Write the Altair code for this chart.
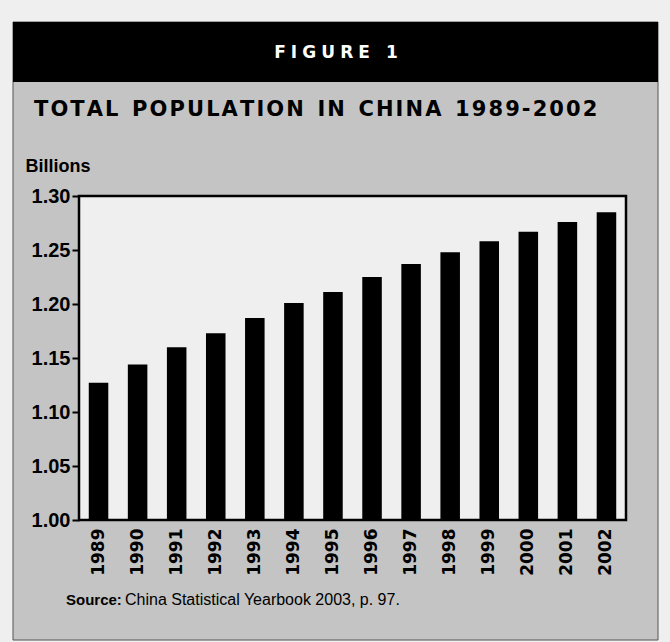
import altair as alt
import pandas as pd

# Total population of China, billions, 1989-2002
years = [str(y) for y in range(1989, 2003)]
population = [1.127, 1.144, 1.160, 1.173, 1.187, 1.201, 1.211,
              1.225, 1.237, 1.248, 1.258, 1.267, 1.276, 1.285]
y_ticks = [1.00, 1.05, 1.10, 1.15, 1.20, 1.25, 1.30]

header_text = "FIGURE 1"
title_text = "TOTAL POPULATION IN CHINA 1989-2002"
axis_title = "Billions"
source_label = "Source:"
source_text = "China Statistical Yearbook 2003, p. 97."

# ---- layout (pixels) ----
W, H = 547, 324            # plot area
PAD_L, PAD_T = 79, 196     # plot origin on the page
PAGE_W, PAGE_H = 670, 642
PAGE_BG = "#efefef"
PANEL_BG = "#c4c4c4"

THIN = "\u2009"
HAIR = "\u200a"


def spaced(s, gap, word_gap=""):
    """Widen tracking by putting narrow spaces between characters."""
    out = gap.join(s)
    return out.replace(" ", " " + word_gap) if word_gap else out


df = pd.DataFrame({"year": years, "population": population})
one = alt.Data(values=[{}])

# grey figure panel with black header band
panel = alt.Chart(one).mark_rect(color=PANEL_BG, stroke="#555555", strokeWidth=1).encode(
    x=alt.value(13 - PAD_L), x2=alt.value(658 - PAD_L),
    y=alt.value(22 - PAD_T), y2=alt.value(640 - PAD_T),
)
header = alt.Chart(one).mark_rect(color="black").encode(
    x=alt.value(13 - PAD_L), x2=alt.value(658 - PAD_L),
    y=alt.value(22 - PAD_T), y2=alt.value(82 - PAD_T),
)
plot_bg = alt.Chart(one).mark_rect(color=PAGE_BG).encode(
    x=alt.value(0), x2=alt.value("width"), y=alt.value(0), y2=alt.value("height"),
)

bars = alt.Chart(df).mark_bar(color="black").encode(
    x=alt.X("year:O", sort=years,
            scale=alt.Scale(paddingInner=0.5, paddingOuter=0.25),
            axis=alt.Axis(title=None, labelAngle=270, ticks=False, domain=False,
                          labelPadding=8, labelFont="DejaVu Sans",
                          labelFontWeight="bold", labelFontSize=17,
                          labelColor="black", zindex=1)),
    y=alt.Y("population:Q",
            scale=alt.Scale(domain=[1.0, 1.3], nice=False, zero=False, clamp=True),
            axis=alt.Axis(values=y_ticks, format=".2f", title=axis_title,
                          titleAngle=0, titleAlign="left", titleBaseline="alphabetic",
                          titleX=25 - PAD_L, titleY=171 - PAD_T,
                          titleFont="Liberation Sans", titleFontSize=18,
                          titleFontWeight="bold", titleColor="black",
                          labelFont="Liberation Sans", labelFontSize=20,
                          labelFontWeight="bold", labelColor="black",
                          labelPadding=2, tickSize=7, tickWidth=2,
                          tickColor="black", domain=False, grid=False, zindex=1)),
    y2=alt.datum(1.0),
)

frame = alt.Chart(one).mark_rect(filled=False, stroke="black", strokeWidth=2.5).encode(
    x=alt.value(0), x2=alt.value("width"), y=alt.value(0), y2=alt.value("height"),
)

fig_label = alt.Chart(one).mark_text(
    text=spaced(header_text, THIN + HAIR), color="white", font="DejaVu Sans",
    fontSize=17, fontWeight="bold", align="center", baseline="alphabetic",
).encode(x=alt.value(336 - PAD_L), y=alt.value(58 - PAD_T))

title = alt.Chart(one).mark_text(
    text=spaced(title_text, HAIR, HAIR), color="black", font="DejaVu Sans",
    fontSize=21, fontWeight="bold", align="left", baseline="alphabetic",
).encode(x=alt.value(34 - PAD_L), y=alt.value(116 - PAD_T))

src_bold = alt.Chart(one).mark_text(
    text=source_label, color="black", font="Liberation Sans",
    fontSize=15, fontWeight="bold", align="left", baseline="alphabetic",
).encode(x=alt.value(66 - PAD_L), y=alt.value(605 - PAD_T))

src = alt.Chart(one).mark_text(
    text=source_text, color="black", font="Liberation Sans",
    fontSize=16, align="left", baseline="alphabetic",
).encode(x=alt.value(125 - PAD_L), y=alt.value(605 - PAD_T))

chart = alt.layer(
    panel, header, plot_bg, bars, frame, fig_label, title, src_bold, src
).properties(
    width=W, height=H, background=PAGE_BG, autosize="none",
    padding={"left": PAD_L, "top": PAD_T,
             "right": PAGE_W - PAD_L - W, "bottom": PAGE_H - PAD_T - H},
).configure_view(stroke=None)

chart.save("out.html", embed_options={"renderer": "svg", "actions": False})
